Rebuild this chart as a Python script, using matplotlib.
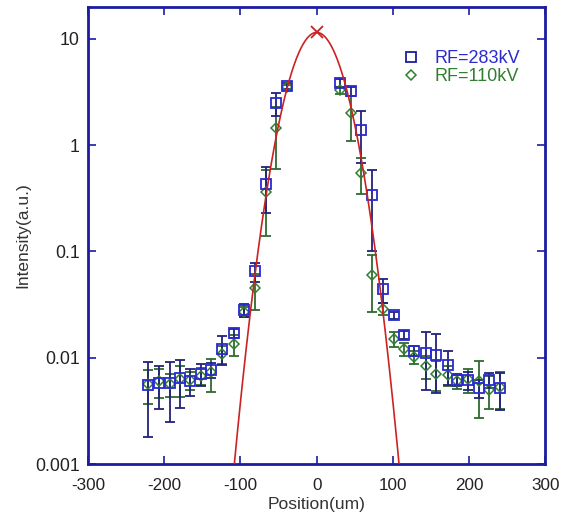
"""
plot.py
-------
Beam profile on a log scale: two RF settings with error bars and a
Gaussian fit through the core.
"""

import numpy as np
import matplotlib
matplotlib.use("Agg")
import matplotlib.pyplot as plt
from matplotlib.lines import Line2D
from matplotlib.ticker import FixedLocator, FixedFormatter, NullLocator


# ----------------------------------- Data -------------------------------------

# RF = 283 kV (blue squares)
pos_283 = [-222, -207, -193, -180, -166, -152, -139, -124, -109, -95, -81, -67, -53, -39,
           31, 45, 58, 73, 87, 102, 115, 128, 143, 156, 172, 184, 198, 213, 226, 241]
int_283 = [0.0055, 0.0058, 0.0058, 0.0065, 0.0061, 0.0071, 0.0077, 0.0122, 0.0170, 0.028,
           0.065, 0.43, 2.5, 3.6,
           3.85, 3.2, 1.38, 0.34, 0.044, 0.025, 0.0165, 0.0117, 0.0112, 0.0107, 0.0085,
           0.0062, 0.0062, 0.0052, 0.0062, 0.0052]
err_283 = [0.0037, 0.0025, 0.0033, 0.0031, 0.0017, 0.0017, 0.0012, 0.0037, 0.0015, 0.004,
           0.013, 0.2, 0.6, 0.25,
           0.3, 0.3, 0.7, 0.24, 0.011, 0.002, 0.0015, 0.0012, 0.0062, 0.006, 0.003,
           0.0008, 0.0012, 0.001, 0.001, 0.002]

# RF = 110 kV (green diamonds)
pos_110 = pos_283
int_110 = [0.0057, 0.0060, 0.0057, 0.0063, 0.0062, 0.0068, 0.0073, 0.0108, 0.0135, 0.027,
           0.045, 0.36, 1.45, 3.5,
           3.3, 2.0, 0.55, 0.06, 0.029, 0.015, 0.0121, 0.0102, 0.0083, 0.0071, 0.0069,
           0.0060, 0.0063, 0.0060, 0.0050, 0.0053]
err_110 = [0.002, 0.0018, 0.0014, 0.002, 0.0012, 0.0012, 0.0025, 0.002, 0.003, 0.003,
           0.017, 0.22, 0.85, 0.2,
           0.25, 0.9, 0.2, 0.033, 0.004, 0.0023, 0.0017, 0.0015, 0.002, 0.0022, 0.0015,
           0.0009, 0.0016, 0.0033, 0.0017, 0.002]

# Gaussian fit of the core
fit_peak = 11.5
fit_sigma = 25.0

labels = ["RF=283kV", "RF=110kV"]
y_ticks = [0.001, 0.01, 0.1, 1, 10]
y_tick_labels = ["0.001", "0.01", "0.1", "1", "10"]
x_ticks = [-300, -200, -100, 0, 100, 200, 300]


# ---------------------------------- Styling -----------------------------------

NAVY = "#1c1ca0"
BLUE = "#2a2ad0"
BLUE_BAR = "#22227a"
GREEN = "#2f7f2f"
GREEN_BAR = "#2e6a2e"
RED = "#cc2222"
TEXT = "#222222"

plt.rcParams["font.family"] = ["Liberation Sans", "DejaVu Sans"]
plt.rcParams["axes.unicode_minus"] = False  # plain hyphen like the original

fig = plt.figure(figsize=(5.61, 5.28), dpi=100)
ax = fig.add_axes([0.157, 0.121, 0.815, 0.866])
ax.set_yscale("log")


# --------------------------------- Drawing ------------------------------------

# error bars first, markers on top
ax.errorbar(pos_110, int_110, yerr=err_110, fmt="none", ecolor=GREEN_BAR,
            elinewidth=1.3, capsize=3.5, capthick=1.3, zorder=2)
ax.errorbar(pos_283, int_283, yerr=err_283, fmt="none", ecolor=BLUE_BAR,
            elinewidth=1.3, capsize=3.5, capthick=1.3, zorder=2)

ax.plot(pos_283, int_283, ls="none", marker="s", ms=7, mfc="none", mec=BLUE, mew=1.3, zorder=4)
ax.plot(pos_110, int_110, ls="none", marker="D", ms=5, mfc="none", mec=GREEN, mew=1.1, zorder=3)

xs = np.linspace(-115, 115, 600)
ax.plot(xs, fit_peak * np.exp(-xs ** 2 / (2 * fit_sigma ** 2)), color=RED, lw=1.2, zorder=5)
ax.plot([0], [fit_peak], ls="none", marker="x", ms=8, mew=1.3, color=RED, zorder=6)


# ---------------------------------- Axes --------------------------------------

ax.set_xlim(-300, 300)
ax.set_ylim(0.001, 20)

ax.xaxis.set_major_locator(FixedLocator(x_ticks))
ax.yaxis.set_major_locator(FixedLocator(y_ticks))
ax.yaxis.set_major_formatter(FixedFormatter(y_tick_labels))
ax.yaxis.set_minor_locator(NullLocator())
ax.xaxis.set_minor_locator(NullLocator())

ax.tick_params(direction="in", length=6, width=1.2, color=NAVY, top=True, right=True,
               labelcolor=TEXT)
ax.tick_params(axis="x", pad=10, labelsize=12.3)
ax.tick_params(axis="y", pad=6, labelsize=12.8)

for sp in ax.spines.values():
    sp.set_color(NAVY)
    sp.set_linewidth(2)

ax.set_xlabel("Position(um)", fontsize=12.5, color="#333333", labelpad=3)
ax.set_ylabel("Intensity(a.u.)", fontsize=12.5, color="#333333", labelpad=3)

# Legend with proxy handles, text coloured per series
handles = [
    Line2D([], [], ls="none", marker="s", ms=7, mfc="none", mec=NAVY, mew=1.3),
    Line2D([], [], ls="none", marker="D", ms=5, mfc="none", mec=GREEN, mew=1.1),
]
leg = ax.legend(handles, labels, loc="upper right", bbox_to_anchor=(0.945, 0.905),
                frameon=False, fontsize=13, borderpad=0, borderaxespad=0,
                labelspacing=0.05, handlelength=1.0, handletextpad=0.8,
                labelcolor=[BLUE, GREEN])

fig.savefig("out.png", dpi=100)
